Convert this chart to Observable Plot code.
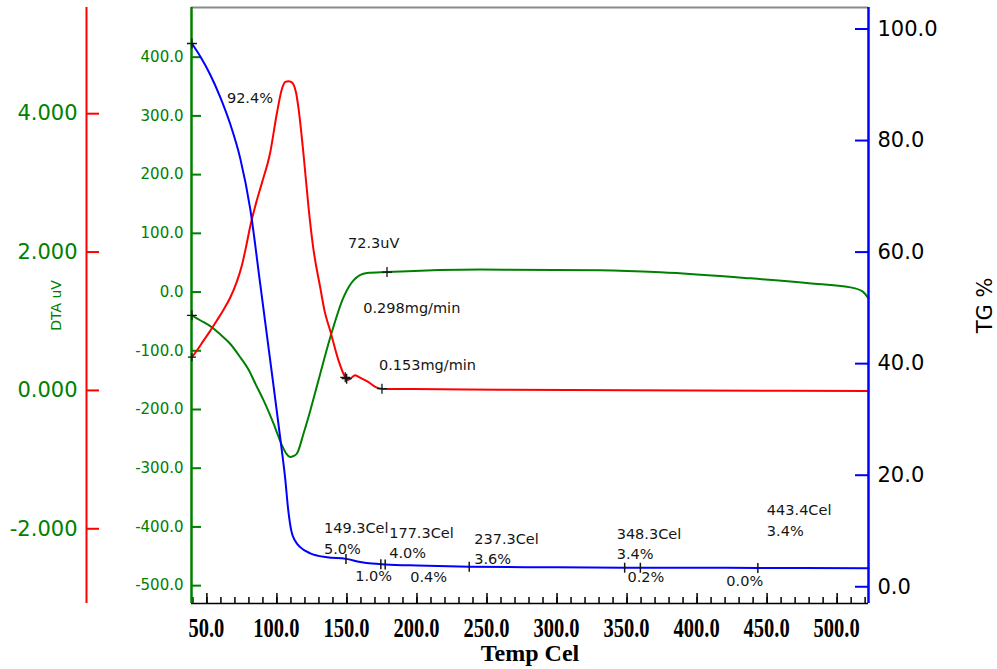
<!DOCTYPE html>
<html>
<head>
<meta charset="utf-8">
<script src="https://cdn.jsdelivr.net/npm/d3@7"></script>
<script src="https://cdn.jsdelivr.net/npm/@observablehq/plot@0.6"></script>
<style>
  html, body { margin: 0; padding: 0; background: #fff; }
  #chart { position: relative; width: 997px; height: 669px; overflow: hidden; }
  #chart svg { position: absolute; left: 0; top: 0; }
</style>
</head>
<body>
<div id="chart"></div>
<script>
// ---- Temperature axis (°C) ----
const tempDomain = [39, 522.4];
const tempMajorTicks = [50, 100, 150, 200, 250, 300, 350, 400, 450, 500];
const tempMinorTicks = d3.range(40, 521, 10);

// ---- TG (%) ----
const tgDomain = [-3.0, 103.85];
const tgTicks = [0, 20, 40, 60, 80, 100];
const tgTemp = [39.3, 45.2, 52.4, 59.5, 66.6, 73.8, 80.9, 88.1, 95.2, 102.4, 105.9, 108.1, 110.2, 113.1, 116.6, 123.8, 135.7, 149.3, 159.5, 167.9, 177.3, 200.0, 237.3, 300.0, 348.3, 400.0, 443.4, 522.4];
const tgPct  = [97.4, 95.1, 91.8, 87.8, 83.0, 76.8, 67.8, 54.2, 40.6, 26.6, 19.4, 13.7, 10.1, 8.2, 7.1, 6.0, 5.3, 5.0, 4.45, 4.15, 4.0, 3.8, 3.6, 3.48, 3.42, 3.40, 3.38, 3.3];
// step analysis points on the TG curve
const stepTemp = [149.3, 177.3, 237.3, 348.3, 443.4];
const stepPct  = [5.0, 4.0, 3.6, 3.42, 3.38];
// additional step boundary ticks
const boundTemp = [174.2, 359.5];
const boundPct  = [4.05, 3.41];

// ---- DTA (uV) ----
const dtaDomain = [-530.4, 484.6];
const dtaTicks = [-500, -400, -300, -200, -100, 0, 100, 200, 300, 400];
const dtaTemp = [39.3, 45.2, 54.7, 59.5, 66.6, 73.8, 79.7, 85.0, 90.4, 97.6, 103.6, 107.0, 109.5, 112.0, 114.3, 119.0, 123.8, 129.7, 138.1, 147.6, 154.7, 164.3, 178.6, 245.2, 330.9, 373.8, 438.1, 480.0, 509.5, 518.1, 522.4];
const dtaUV   = [-39.7, -48, -62, -72, -88, -111, -132, -158, -184, -224, -261, -276, -281, -279, -275, -241, -202, -150, -77, -8.5, 20, 32.4, 34, 38.2, 37, 33.6, 23.3, 15, 8, 1.2, -10.7];
const dtaPeakTemp = [178.6];
const dtaPeakUV = [34];
const dtaPeakLabel = ["72.3uV"];

// ---- DTG (mg/min) ----
const dtgDomain = [-3.08, 5.535];
const dtgTicks = [-2, 0, 2, 4];
const dtgTemp = [39.3, 43.0, 47.6, 52.0, 57.1, 62.0, 66.6, 71.0, 75.0, 78.0, 80.9, 85.0, 89.3, 95.2, 100.0, 103.6, 106.0, 108.3, 110.0, 111.9, 113.7, 115.4, 119.0, 122.6, 126.0, 130.9, 134.0, 138.1, 144.0, 148.8, 150.5, 152.4, 155.9, 158.0, 160.7, 165.4, 170.2, 176.1, 197.4, 259.5, 400.0, 522.4];
const dtgRate = [0.48, 0.58, 0.72, 0.85, 1.01, 1.17, 1.34, 1.55, 1.81, 2.08, 2.37, 2.70, 3.00, 3.44, 4.01, 4.36, 4.46, 4.47, 4.46, 4.42, 4.30, 4.08, 3.41, 2.64, 2.05, 1.49, 1.15, 0.86, 0.43, 0.19, 0.15, 0.17, 0.22, 0.20, 0.17, 0.12, 0.05, 0.02, 0.02, 0.01, 0.0, -0.01];
const dtgMarkTemp = [148.8, 149.8, 175.0];
const dtgMarkRate = [0.19, 0.17, 0.025];
const dtgLabels = ["0.298mg/min", "0.153mg/min"];

// ---- look ----
const GREEN = "#008000", RED = "#ff0000", BLUE = "#0000ff", INK = "#151515";
const SANS = "DejaVu Sans, Verdana, sans-serif";
const SERIF = "Liberation Serif, Times New Roman, serif";
const W = 997, H = 669;
const M = {top: 7, right: 129, bottom: 66, left: 191};
const FW = W - M.left - M.right;   // frame width
const FH = H - M.top - M.bottom;   // frame height
const RED_AXIS_DX = -105;          // DTG axis sits left of the DTA axis
const NOTE = {fill: INK, fontFamily: SANS, fontSize: 14.5};

// thin-stroke marker shapes
const plusSym = {draw(c, s) { const r = Math.sqrt(s / Math.PI); c.moveTo(-r, 0); c.lineTo(r, 0); c.moveTo(0, -r); c.lineTo(0, r); }};
const barSym  = {draw(c, s) { const r = Math.sqrt(s / Math.PI); c.moveTo(0, -r); c.lineTo(0, r); }};

function layer(yDomain, marks) {
  return Plot.plot({
    width: W, height: H,
    marginTop: M.top, marginRight: M.right, marginBottom: M.bottom, marginLeft: M.left,
    style: {background: "transparent", overflow: "visible"},
    x: {domain: tempDomain, axis: null},
    y: {domain: yDomain, axis: null},
    marks
  });
}

const fmt1 = d => d.toFixed(1);
const fmt3 = d => d.toFixed(3);

// ---- DTA layer with the frame and temperature axis ----
const dtaLayer = layer(dtaDomain, [
  Plot.ruleY([dtaDomain[1]], {stroke: "#8a8a8a", strokeWidth: 2}),
  Plot.ruleY([dtaDomain[0]], {stroke: "#000", strokeWidth: 1.5}),
  Plot.tickX(tempMinorTicks, {x: d => d, stroke: "#000", strokeWidth: 1.5, insetTop: FH - 6}),
  Plot.tickX(tempMajorTicks, {x: d => d, stroke: "#000", strokeWidth: 1.5, insetTop: FH - 10}),
  Plot.text(["Temp Cel"], {text: d => d, frameAnchor: "bottom", dy: 50, lineAnchor: "middle", textAnchor: "middle", fontFamily: SERIF, fontWeight: "bold", fontSize: 24, fill: "#000"}),
  Plot.ruleX([tempDomain[0]], {stroke: GREEN, strokeWidth: 2.5}),
  Plot.tickY(dtaTicks, {y: d => d, stroke: GREEN, strokeWidth: 2, insetRight: FW - 10}),
  Plot.axisY(dtaTicks, {anchor: "left", tickSize: 0, tickPadding: 8, tickFormat: fmt1, fill: GREEN, fontFamily: SANS, fontSize: 15, label: null}),
  Plot.text(["DTA uV"], {text: d => d, frameAnchor: "left", textAnchor: "middle", dx: -135, rotate: -90, fill: GREEN, fontFamily: SANS, fontSize: 14}),
  Plot.line(dtaUV, {x: dtaTemp, y: dtaUV, stroke: GREEN, strokeWidth: 2, curve: "monotone-x"}),
  Plot.dot([0], {x: [dtaTemp[0]], y: [dtaUV[0]], symbol: plusSym, r: 5, stroke: INK, strokeWidth: 1.3, fill: "none"}),
  Plot.dot(dtaPeakTemp, {x: dtaPeakTemp, y: dtaPeakUV, symbol: plusSym, r: 5, stroke: INK, strokeWidth: 1.3, fill: "none"}),
  Plot.text(dtaPeakTemp, {x: dtaPeakTemp, y: dtaPeakUV, text: dtaPeakLabel, textAnchor: "start", lineAnchor: "top", dx: -39, dy: -34, ...NOTE})
]);

// temperature tick labels: narrow bold serif, placed with the plot's own x scale
const xScale = dtaLayer.scale("x");
d3.select(dtaLayer).append("g")
    .attr("aria-label", "x-axis tick label")
    .attr("font-family", SERIF)
    .attr("font-weight", "bold")
    .attr("font-size", 27)
    .attr("text-anchor", "middle")
    .attr("fill", "#000")
  .selectAll("text")
  .data(tempMajorTicks)
  .join("text")
    .attr("transform", d => `translate(${xScale.apply(d)},${H - M.bottom + 34}) scale(0.76,1)`)
    .text(fmt1);

// ---- DTG layer (red) ----
const dtgLayer = layer(dtgDomain, [
  Plot.ruleX([tempDomain[0]], {stroke: RED, strokeWidth: 2, dx: RED_AXIS_DX}),
  Plot.tickY(dtgTicks, {y: d => d, stroke: RED, strokeWidth: 2, insetRight: FW - 13, dx: RED_AXIS_DX}),
  Plot.axisY(dtgTicks, {anchor: "left", tickSize: 0, tickPadding: 9, dx: RED_AXIS_DX, tickFormat: fmt3, fill: GREEN, fontFamily: SANS, fontSize: 21, label: null}),
  Plot.line(dtgRate, {x: dtgTemp, y: dtgRate, stroke: RED, strokeWidth: 2, curve: "monotone-x"}),
  Plot.dot([0], {x: [dtgTemp[0]], y: [dtgRate[0]], symbol: plusSym, r: 4, stroke: INK, strokeWidth: 1.3, fill: "none"}),
  Plot.dot(dtgMarkTemp, {x: dtgMarkTemp, y: dtgMarkRate, symbol: plusSym, r: 5, stroke: INK, strokeWidth: 1.3, fill: "none"}),
  Plot.text([0], {x: [dtgMarkTemp[0]], y: [dtgMarkRate[0]], text: [dtgLabels[0]], textAnchor: "start", lineAnchor: "top", dx: 18, dy: -75, ...NOTE}),
  Plot.text([0], {x: [dtgMarkTemp[2]], y: [dtgMarkRate[2]], text: [dtgLabels[1]], textAnchor: "start", lineAnchor: "top", dx: -3, dy: -29, ...NOTE})
]);

// ---- TG layer (blue) ----
const stepNudge = [[-22, -40], [4, -41], [5, -37], [-8, -43], [9, -67]];
const lossNudge = [[8, 6], [1.5, 5], [99, 4], [53.5, 7.5]];
const tgLayer = layer(tgDomain, [
  Plot.ruleX([tempDomain[1]], {stroke: BLUE, strokeWidth: 2.5}),
  Plot.tickY(tgTicks, {y: d => d, stroke: BLUE, strokeWidth: 2, insetLeft: FW - 13}),
  Plot.axisY(tgTicks, {anchor: "right", tickSize: 0, tickPadding: 9, tickFormat: fmt1, fill: "#000", fontFamily: SANS, fontSize: 21, label: null}),
  Plot.text(["TG %"], {text: d => d, frameAnchor: "right", textAnchor: "middle", dx: 117, rotate: -90, fill: "#000", fontFamily: SANS, fontSize: 21}),
  Plot.line(tgPct, {x: tgTemp, y: tgPct, stroke: BLUE, strokeWidth: 2, curve: "monotone-x"}),
  Plot.dot([0], {x: [tgTemp[0]], y: [tgPct[0]], symbol: plusSym, r: 5, stroke: INK, strokeWidth: 1.3, fill: "none"}),
  Plot.dot(stepTemp, {x: stepTemp, y: stepPct, symbol: barSym, r: 5, stroke: INK, strokeWidth: 1.5, fill: "none"}),
  Plot.dot(boundTemp, {x: boundTemp, y: boundPct, symbol: barSym, r: 5, stroke: INK, strokeWidth: 1.5, fill: "none"}),
  // total loss of the main step
  Plot.text([0], {x: [tgTemp[0]], y: [tgPct[0]], text: [(tgPct[0] - stepPct[0]).toFixed(1) + "%"], textAnchor: "start", lineAnchor: "top", dx: 35, dy: 49, ...NOTE}),
  // temperature / residue at each step point
  ...stepTemp.map((t, i) => Plot.text([0], {
    x: [t], y: [stepPct[i]],
    text: [`${t.toFixed(1)}Cel\n${stepPct[i].toFixed(1)}%`],
    textAnchor: "start", lineAnchor: "top", lineHeight: 1.4,
    dx: stepNudge[i][0], dy: stepNudge[i][1],
    ...NOTE
  })),
  // loss between consecutive step points
  ...stepTemp.slice(1).map((t, i) => Plot.text([0], {
    x: [(stepTemp[i] + t) / 2], y: [stepPct[i + 1]],
    text: [(stepPct[i] - stepPct[i + 1]).toFixed(1) + "%"],
    textAnchor: "middle", lineAnchor: "top",
    dx: lossNudge[i][0], dy: lossNudge[i][1],
    ...NOTE
  }))
]);

const chart = document.getElementById("chart");
chart.append(dtaLayer, dtgLayer, tgLayer);
</script>
</body>
</html>
